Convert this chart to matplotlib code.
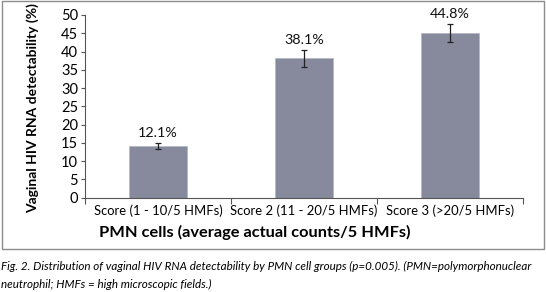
import matplotlib
matplotlib.use("Agg")
import matplotlib.pyplot as plt
from matplotlib.patches import Rectangle

# Chart data
categories = ["Score (1 - 10/5 HMFs)", "Score 2 (11 - 20/5 HMFs)", "Score 3 (>20/5 HMFs)"]
bar_values = [14.1, 38.1, 45.0]
err_values = [0.85, 2.2, 2.5]
bar_labels = ["12.1%", "38.1%", "44.8%"]
y_ticks = [0, 5, 10, 15, 20, 25, 30, 35, 40, 45, 50]

plt.rcParams["font.family"] = ["Lato", "DejaVu Sans"]

fig = plt.figure(figsize=(5.46, 2.92), dpi=100)
W, H = 546.0, 292.0

#Grey frame around the chart area.
fig.patches.append(Rectangle((2 / W, 1 - 249 / H), 542 / W, 248 / H, transform=fig.transFigure,
                             fill=False, edgecolor="#8c8c8c", linewidth=1.0))

ax = fig.add_axes([85 / W, 1 - 197.7 / H, 438 / W, 182.7 / H])
x = list(range(len(categories)))
ax.bar(x, bar_values, width=0.4, color="#868a9c", edgecolor="#b5b8c4", linewidth=0.6, zorder=2)
ax.errorbar(x, bar_values, yerr=err_values, fmt="none", ecolor="#222222", elinewidth=0.9,
            capsize=2.5, capthick=0.9, zorder=3)

for xi, v, e, lab in zip(x, bar_values, err_values, bar_labels):
    ax.annotate(lab, xy=(xi, v + e), xytext=(0, 3), textcoords="offset points",
                ha="center", va="bottom", fontsize=10.3, color="#111111")

ax.set_xlim(-0.5, len(categories) - 0.5)
ax.set_ylim(0, 50)
ax.set_yticks(y_ticks)
ax.tick_params(axis="y", labelsize=10.5, length=3, width=0.8, color="#555555", pad=2)

#Boundary ticks on x, labels sit at the bar centres.
ax.set_xticks([i - 0.5 for i in range(len(categories) + 1)])
ax.set_xticklabels([])
ax.set_xticks(x, minor=True)
ax.set_xticklabels(categories, minor=True)
ax.tick_params(axis="x", which="major", length=4, width=0.8, color="#555555")
ax.tick_params(axis="x", which="minor", length=0, labelsize=9.4, pad=5)

for side in ["top", "right"]:
    ax.spines[side].set_visible(False)
for side in ["left", "bottom"]:
    ax.spines[side].set_color("#555555")
    ax.spines[side].set_linewidth(0.8)
ax.set_facecolor("none")

fig.text(33 / W, 1 - 108 / H, "Vaginal HIV RNA detectability (%)", rotation=90, ha="center",
         va="center", fontsize=10, fontweight="bold")
fig.text(255 / W, 1 - 232 / H, "PMN cells (average actual counts/5 HMFs)", ha="center",
         va="center", fontsize=11.8, fontweight="bold")

fig.text(1 / W, 1 - 266 / H, "Fig. 2. Distribution of vaginal HIV RNA detectability by PMN cell groups (p=0.005). (PMN=polymorphonuclear",
         ha="left", va="center", fontsize=8.4, style="italic")
fig.text(1 / W, 1 - 284 / H, "neutrophil; HMFs = high microscopic fields.)",
         ha="left", va="center", fontsize=8.4, style="italic")

fig.savefig("out.png", dpi=100)
